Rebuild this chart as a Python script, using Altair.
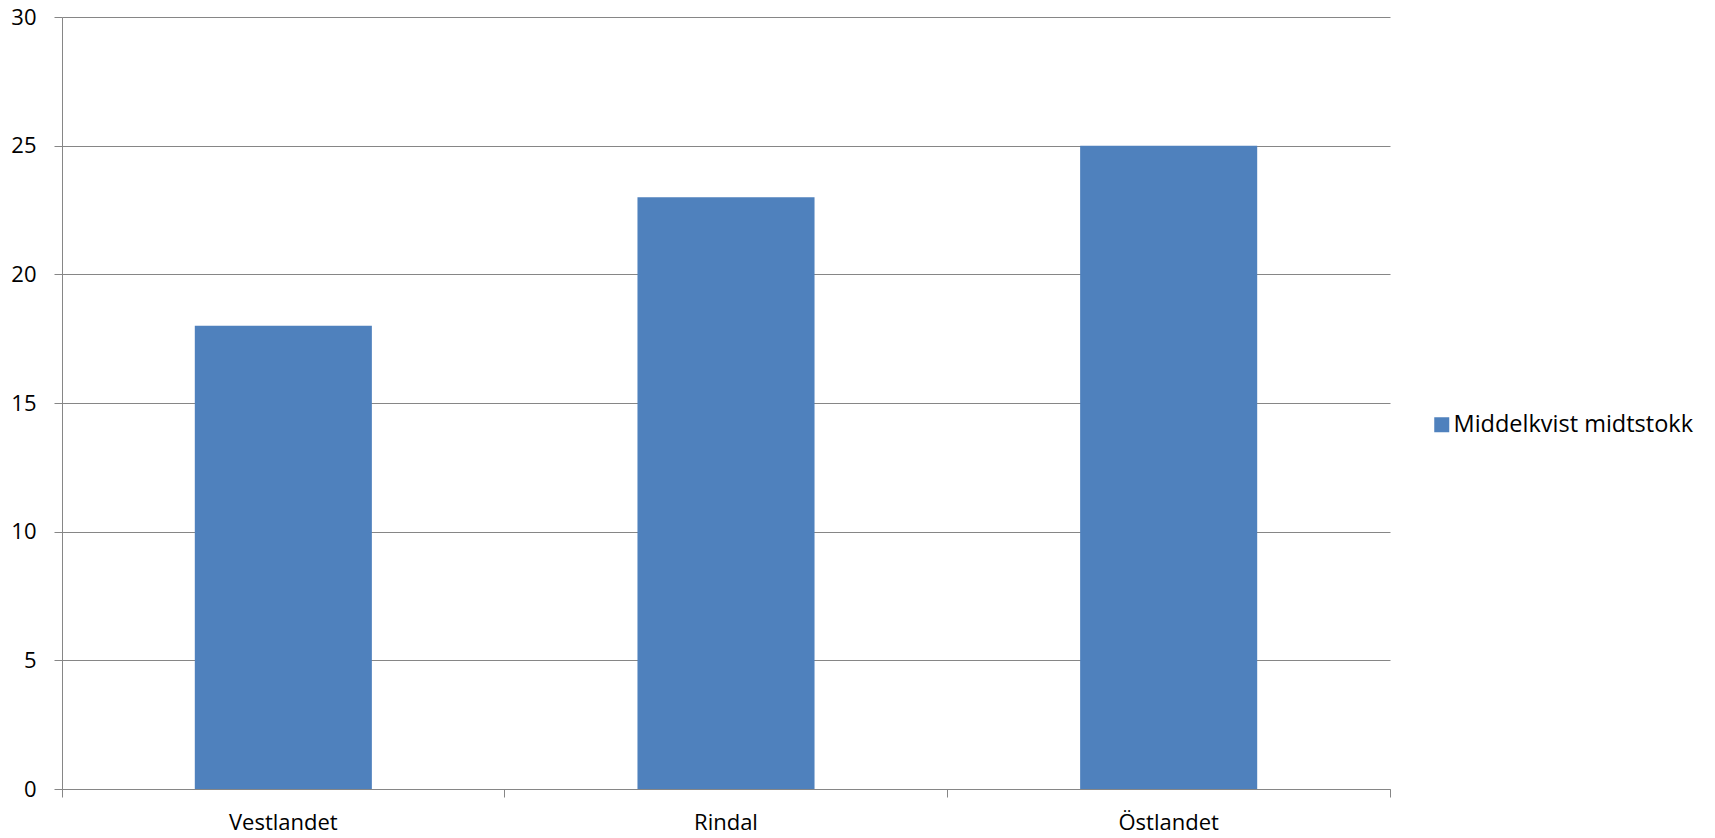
import altair as alt
import pandas as pd

regions = ["Vestlandet", "Rindal", "Östlandet"]
middelkvist = [18, 23, 25]
series_name = "Middelkvist midtstokk"

df = pd.DataFrame({"region": regions, "verdi": middelkvist, "serie": [series_name] * len(regions)})

FONT = "Open Sans"
GRID = "#868686"
SIZE = 22

bars = alt.Chart(df).mark_bar(width=alt.RelativeBandSize(0.4), color="#4F81BD").encode(
    x=alt.X(
        "region:N",
        sort=regions,
        title=None,
        scale=alt.Scale(paddingInner=0, paddingOuter=0),
        axis=alt.Axis(
            labelAngle=0,
            labelFont=FONT,
            labelFontSize=SIZE,
            labelColor="#000000",
            labelPadding=15,
            domainColor=GRID,
            tickColor=GRID,
            tickSize=8,
            ticks=True,
            bandPosition=1,
            tickExtra=True,
            grid=False,
        ),
    ),
    y=alt.Y(
        "verdi:Q",
        title=None,
        scale=alt.Scale(domain=[0, 30]),
        axis=alt.Axis(
            values=[0, 5, 10, 15, 20, 25, 30],
            labelFont=FONT,
            labelFontSize=SIZE,
            labelColor="#000000",
            labelPadding=18,
            domainColor=GRID,
            tickColor=GRID,
            tickSize=8,
            ticks=True,
            gridColor=GRID,
            gridOpacity=1,
        ),
    ),
    fill=alt.Fill(
        "serie:N",
        scale=alt.Scale(domain=[series_name], range=["#4F81BD"]),
        legend=alt.Legend(
            title=None,
            orient="none",
            legendX=1368,
            legendY=396,
            padding=0,
            symbolType="square",
            symbolSize=225,
            symbolStrokeWidth=0,
            labelOffset=0,
            labelFont=FONT,
            labelFontSize=23.5,
            labelColor="#000000",
            labelLimit=400,
        ),
    ),
)

chart = bars.properties(
    width=1328,
    height=772,
    autosize=alt.AutoSizeParams(type="none"),
    padding={"left": 62, "top": 17, "right": 325, "bottom": 49},
).configure(background="#ffffff", view=alt.ViewConfig(stroke=None))

chart.save("out.html", embed_options={"renderer": "svg", "actions": False})
